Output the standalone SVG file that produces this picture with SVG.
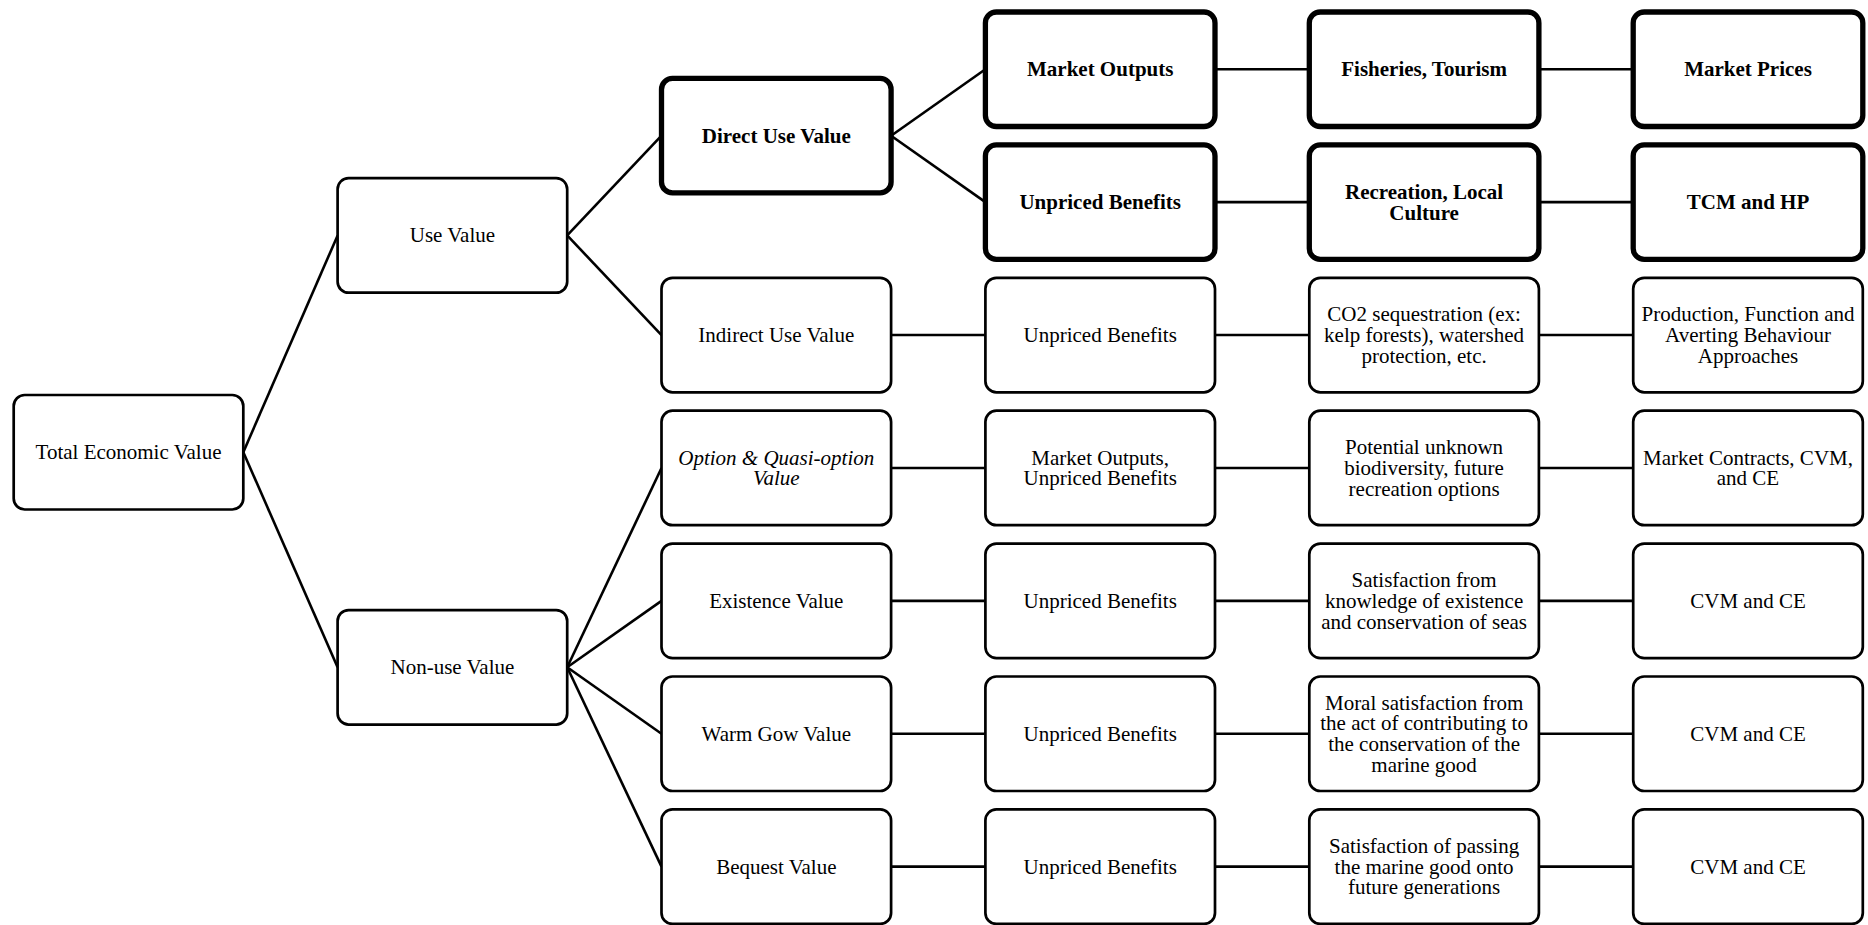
<svg xmlns="http://www.w3.org/2000/svg" width="1868" height="925" viewBox="0 0 1868 925">
  <style>
    .box { fill: #ffffff; stroke: #000000; stroke-width: 2.7; }
    .box.strong { stroke-width: 5.3; }
    .link { stroke: #000000; stroke-width: 2.6; fill: none; }
    text { font-family: "Liberation Serif", "Times New Roman", serif; font-size: 21px; fill: #000000; text-anchor: middle; }
    .b { font-weight: bold; }
    .i { font-style: italic; }
  </style>
  <rect x="0" y="0" width="1868" height="925" fill="#ffffff"/>

  <!-- connectors -->
  <g id="connectors">
    <line class="link" x1="243.3" y1="452.2" x2="337.6" y2="235.4"/>
    <line class="link" x1="243.3" y1="452.2" x2="337.6" y2="667.3"/>
    <line class="link" x1="567.2" y1="235.4" x2="661.5" y2="135.7"/>
    <line class="link" x1="567.2" y1="235.4" x2="661.5" y2="335.05"/>
    <line class="link" x1="567.2" y1="667.3" x2="661.5" y2="467.95"/>
    <line class="link" x1="567.2" y1="667.3" x2="661.5" y2="600.85"/>
    <line class="link" x1="567.2" y1="667.3" x2="661.5" y2="733.75"/>
    <line class="link" x1="567.2" y1="667.3" x2="661.5" y2="866.65"/>
    <line class="link" x1="891.1" y1="135.7" x2="985.4" y2="69.25"/>
    <line class="link" x1="891.1" y1="135.7" x2="985.4" y2="202.15"/>
    <!-- horizontal chains -->
    <line class="link" x1="1215" y1="69.25" x2="1309.3" y2="69.25"/>
    <line class="link" x1="1538.9" y1="69.25" x2="1633.2" y2="69.25"/>
    <line class="link" x1="1215" y1="202.15" x2="1309.3" y2="202.15"/>
    <line class="link" x1="1538.9" y1="202.15" x2="1633.2" y2="202.15"/>
    <line class="link" x1="891.1" y1="335.05" x2="985.4" y2="335.05"/>
    <line class="link" x1="1215" y1="335.05" x2="1309.3" y2="335.05"/>
    <line class="link" x1="1538.9" y1="335.05" x2="1633.2" y2="335.05"/>
    <line class="link" x1="891.1" y1="467.95" x2="985.4" y2="467.95"/>
    <line class="link" x1="1215" y1="467.95" x2="1309.3" y2="467.95"/>
    <line class="link" x1="1538.9" y1="467.95" x2="1633.2" y2="467.95"/>
    <line class="link" x1="891.1" y1="600.85" x2="985.4" y2="600.85"/>
    <line class="link" x1="1215" y1="600.85" x2="1309.3" y2="600.85"/>
    <line class="link" x1="1538.9" y1="600.85" x2="1633.2" y2="600.85"/>
    <line class="link" x1="891.1" y1="733.75" x2="985.4" y2="733.75"/>
    <line class="link" x1="1215" y1="733.75" x2="1309.3" y2="733.75"/>
    <line class="link" x1="1538.9" y1="733.75" x2="1633.2" y2="733.75"/>
    <line class="link" x1="891.1" y1="866.65" x2="985.4" y2="866.65"/>
    <line class="link" x1="1215" y1="866.65" x2="1309.3" y2="866.65"/>
    <line class="link" x1="1538.9" y1="866.65" x2="1633.2" y2="866.65"/>
  </g>

  <!-- column 0 -->
  <g id="total-economic-value">
    <rect class="box" x="13.7" y="395" width="229.6" height="114.5" rx="11"/>
    <text x="128.5" y="459.2">Total Economic Value</text>
  </g>

  <!-- column 1 -->
  <g id="use-value">
    <rect class="box" x="337.6" y="178.15" width="229.6" height="114.5" rx="11"/>
    <text x="452.4" y="242.4">Use Value</text>
  </g>
  <g id="non-use-value">
    <rect class="box" x="337.6" y="610.05" width="229.6" height="114.5" rx="11"/>
    <text x="452.4" y="674.3">Non-use Value</text>
  </g>

  <!-- column 2 -->
  <g id="direct-use-value">
    <rect class="box strong" x="661.5" y="78.45" width="229.6" height="114.5" rx="11"/>
    <text class="b" x="776.3" y="142.7">Direct Use Value</text>
  </g>
  <g id="indirect-use-value">
    <rect class="box" x="661.5" y="277.8" width="229.6" height="114.5" rx="11"/>
    <text x="776.3" y="342">Indirect Use Value</text>
  </g>
  <g id="option-value">
    <rect class="box" x="661.5" y="410.7" width="229.6" height="114.5" rx="11"/>
    <text class="i" x="776.3" y="464.5">Option &amp; Quasi-option</text>
    <text class="i" x="776.3" y="485.3">Value</text>
  </g>
  <g id="existence-value">
    <rect class="box" x="661.5" y="543.6" width="229.6" height="114.5" rx="11"/>
    <text x="776.3" y="607.8">Existence Value</text>
  </g>
  <g id="warm-glow-value">
    <rect class="box" x="661.5" y="676.5" width="229.6" height="114.5" rx="11"/>
    <text x="776.3" y="740.7">Warm Gow Value</text>
  </g>
  <g id="bequest-value">
    <rect class="box" x="661.5" y="809.4" width="229.6" height="114.5" rx="11"/>
    <text x="776.3" y="873.6">Bequest Value</text>
  </g>

  <!-- column 3 -->
  <g id="market-outputs">
    <rect class="box strong" x="985.4" y="12" width="229.6" height="114.5" rx="11"/>
    <text class="b" x="1100.2" y="76.2">Market Outputs</text>
  </g>
  <g id="direct-unpriced-benefits">
    <rect class="box strong" x="985.4" y="144.9" width="229.6" height="114.5" rx="11"/>
    <text class="b" x="1100.2" y="209.1">Unpriced Benefits</text>
  </g>
  <g id="indirect-unpriced-benefits">
    <rect class="box" x="985.4" y="277.8" width="229.6" height="114.5" rx="11"/>
    <text x="1100.2" y="342">Unpriced Benefits</text>
  </g>
  <g id="option-outputs">
    <rect class="box" x="985.4" y="410.7" width="229.6" height="114.5" rx="11"/>
    <text x="1100.2" y="464.5">Market Outputs,</text>
    <text x="1100.2" y="485.3">Unpriced Benefits</text>
  </g>
  <g id="existence-unpriced-benefits">
    <rect class="box" x="985.4" y="543.6" width="229.6" height="114.5" rx="11"/>
    <text x="1100.2" y="607.8">Unpriced Benefits</text>
  </g>
  <g id="warm-glow-unpriced-benefits">
    <rect class="box" x="985.4" y="676.5" width="229.6" height="114.5" rx="11"/>
    <text x="1100.2" y="740.7">Unpriced Benefits</text>
  </g>
  <g id="bequest-unpriced-benefits">
    <rect class="box" x="985.4" y="809.4" width="229.6" height="114.5" rx="11"/>
    <text x="1100.2" y="873.6">Unpriced Benefits</text>
  </g>

  <!-- column 4 -->
  <g id="fisheries-tourism">
    <rect class="box strong" x="1309.3" y="12" width="229.6" height="114.5" rx="11"/>
    <text class="b" x="1424.1" y="76.2">Fisheries, Tourism</text>
  </g>
  <g id="recreation-culture">
    <rect class="box strong" x="1309.3" y="144.9" width="229.6" height="114.5" rx="11"/>
    <text class="b" x="1424.1" y="198.7">Recreation, Local</text>
    <text class="b" x="1424.1" y="219.5">Culture</text>
  </g>
  <g id="co2-sequestration">
    <rect class="box" x="1309.3" y="277.8" width="229.6" height="114.5" rx="11"/>
    <text x="1424.1" y="321.2">CO2 sequestration (ex:</text>
    <text x="1424.1" y="342">kelp forests), watershed</text>
    <text x="1424.1" y="362.8">protection, etc.</text>
  </g>
  <g id="unknown-biodiversity">
    <rect class="box" x="1309.3" y="410.7" width="229.6" height="114.5" rx="11"/>
    <text x="1424.1" y="454.1">Potential unknown</text>
    <text x="1424.1" y="474.9">biodiversity, future</text>
    <text x="1424.1" y="495.7">recreation options</text>
  </g>
  <g id="existence-satisfaction">
    <rect class="box" x="1309.3" y="543.6" width="229.6" height="114.5" rx="11"/>
    <text x="1424.1" y="587">Satisfaction from</text>
    <text x="1424.1" y="607.8">knowledge of existence</text>
    <text x="1424.1" y="628.6">and conservation of seas</text>
  </g>
  <g id="moral-satisfaction">
    <rect class="box" x="1309.3" y="676.5" width="229.6" height="114.5" rx="11"/>
    <text x="1424.1" y="709.5">Moral satisfaction from</text>
    <text x="1424.1" y="730.3">the act of contributing to</text>
    <text x="1424.1" y="751.1">the conservation of the</text>
    <text x="1424.1" y="771.9">marine good</text>
  </g>
  <g id="passing-satisfaction">
    <rect class="box" x="1309.3" y="809.4" width="229.6" height="114.5" rx="11"/>
    <text x="1424.1" y="852.8">Satisfaction of passing</text>
    <text x="1424.1" y="873.6">the marine good onto</text>
    <text x="1424.1" y="894.4">future generations</text>
  </g>

  <!-- column 5 -->
  <g id="market-prices">
    <rect class="box strong" x="1633.2" y="12" width="229.6" height="114.5" rx="11"/>
    <text class="b" x="1748" y="76.2">Market Prices</text>
  </g>
  <g id="tcm-hp">
    <rect class="box strong" x="1633.2" y="144.9" width="229.6" height="114.5" rx="11"/>
    <text class="b" x="1748" y="209.1">TCM and HP</text>
  </g>
  <g id="production-function">
    <rect class="box" x="1633.2" y="277.8" width="229.6" height="114.5" rx="11"/>
    <text x="1748" y="321.2">Production, Function and</text>
    <text x="1748" y="342">Averting Behaviour</text>
    <text x="1748" y="362.8">Approaches</text>
  </g>
  <g id="market-contracts">
    <rect class="box" x="1633.2" y="410.7" width="229.6" height="114.5" rx="11"/>
    <text x="1748" y="464.5">Market Contracts, CVM,</text>
    <text x="1748" y="485.3">and CE</text>
  </g>
  <g id="existence-methods">
    <rect class="box" x="1633.2" y="543.6" width="229.6" height="114.5" rx="11"/>
    <text x="1748" y="607.8">CVM and CE</text>
  </g>
  <g id="warm-glow-methods">
    <rect class="box" x="1633.2" y="676.5" width="229.6" height="114.5" rx="11"/>
    <text x="1748" y="740.7">CVM and CE</text>
  </g>
  <g id="bequest-methods">
    <rect class="box" x="1633.2" y="809.4" width="229.6" height="114.5" rx="11"/>
    <text x="1748" y="873.6">CVM and CE</text>
  </g>
</svg>
